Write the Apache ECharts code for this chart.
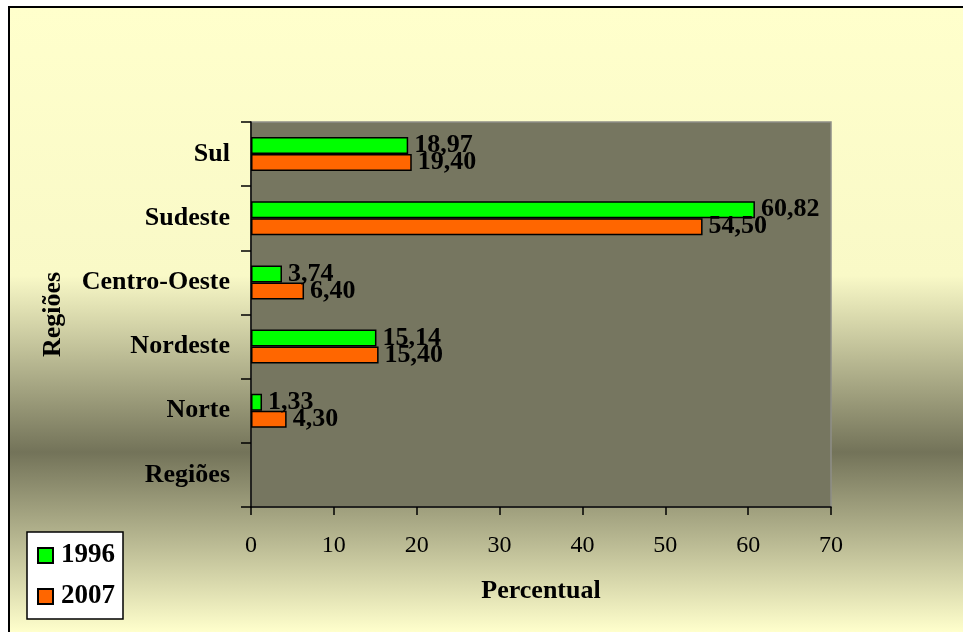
<!DOCTYPE html>
<html>
<head>
<meta charset="utf-8">
<title>Regiões - Percentual</title>
<script src="https://cdn.jsdelivr.net/npm/echarts@6/dist/echarts.min.js"></script>
<style>
  html, body { margin: 0; padding: 0; background: #ffffff; }
  #chart { width: 963px; height: 632px; }
</style>
</head>
<body>
<div id="chart"></div>
<script>
// Regions, bottom to top along the category axis
const categories = ['Regiões', 'Norte', 'Nordeste', 'Centro-Oeste', 'Sudeste', 'Sul'];
// Share per region (%), same order as categories
const values1996 = [null, 1.33, 15.14, 3.74, 60.82, 18.97];
const values2007 = [null, 4.30, 15.40, 6.40, 54.50, 19.40];
const seriesNames = ['1996', '2007'];
const xTicks = { min: 0, max: 70, step: 10 };

const serif = "'Liberation Serif', 'Times New Roman', serif";
const fmt = v => (v.value == null ? '' : v.value.toFixed(2).replace('.', ','));

const chart = echarts.init(document.getElementById('chart'), null, { renderer: 'canvas' });

const barLabel = {
  show: true,
  position: 'right',
  distance: 6,
  color: '#000',
  fontFamily: serif,
  fontWeight: 'bold',
  fontSize: 26,
  formatter: fmt
};

chart.setOption({
  animation: false,
  backgroundColor: '#ffffff',
  graphic: [{
    type: 'rect',
    z: -10,
    silent: true,
    shape: { x: 9, y: 7, width: 970, height: 640 },
    style: {
      fill: {
        type: 'linear', x: 0, y: 0, x2: 0, y2: 1,
        colorStops: [
          { offset: 0, color: '#FFFFCC' },
          { offset: 0.42, color: '#F9F9C7' },
          { offset: 0.695, color: '#737359' },
          { offset: 0.975, color: '#FFFFCC' },
          { offset: 1, color: '#FFFFCC' }
        ]
      },
      stroke: '#000',
      lineWidth: 2
    }
  }],
  grid: {
    left: 251, top: 122, width: 580, height: 385,
    show: true,
    backgroundColor: '#767660',
    borderColor: '#8e8e88',
    borderWidth: 1.5
  },
  legend: {
    orient: 'vertical',
    left: 27, top: 532,
    backgroundColor: '#ffffff',
    borderColor: '#000',
    borderWidth: 1.5,
    padding: [10, 8, 9, 10],
    itemGap: 14,
    itemWidth: 15,
    itemHeight: 15,
    icon: 'rect',
    data: seriesNames,
    textStyle: {
      fontFamily: serif, fontWeight: 'bold', fontSize: 27, lineHeight: 26, color: '#000',
      padding: [0, 0, 0, 3]
    }
  },
  xAxis: {
    type: 'value',
    min: xTicks.min, max: xTicks.max, interval: xTicks.step,
    name: 'Percentual',
    nameLocation: 'middle',
    nameGap: 71,
    nameTextStyle: { fontFamily: serif, fontWeight: 'bold', fontSize: 26, color: '#000' },
    axisLine: { show: true, lineStyle: { color: '#000', width: 1.5 } },
    axisTick: { show: true, length: 8, lineStyle: { color: '#000', width: 1.5 } },
    axisLabel: { margin: 27, fontFamily: serif, fontSize: 24, color: '#000' },
    splitLine: { show: false }
  },
  yAxis: {
    type: 'category',
    data: categories,
    name: 'Regiões',
    nameLocation: 'middle',
    nameGap: 185,
    nameRotate: 90,
    nameTextStyle: { fontFamily: serif, fontWeight: 'bold', fontSize: 26, color: '#000' },
    axisLine: { show: true, lineStyle: { color: '#000', width: 1.5 } },
    axisTick: { show: true, length: 10, alignWithLabel: false, lineStyle: { color: '#000', width: 1.5 } },
    axisLabel: { margin: 21, fontFamily: serif, fontWeight: 'bold', fontSize: 26, color: '#000' },
    splitLine: { show: false }
  },
  series: [
    {
      name: seriesNames[0],
      type: 'bar',
      data: values1996,
      barWidth: 17,
      barGap: '0%',
      itemStyle: { color: '#00FF00', borderColor: '#000', borderWidth: 1.5 },
      label: barLabel
    },
    {
      name: seriesNames[1],
      type: 'bar',
      data: values2007,
      barWidth: 17,
      barGap: '0%',
      itemStyle: { color: '#FF6600', borderColor: '#000', borderWidth: 1.5 },
      label: barLabel
    }
  ]
});
</script>
</body>
</html>
